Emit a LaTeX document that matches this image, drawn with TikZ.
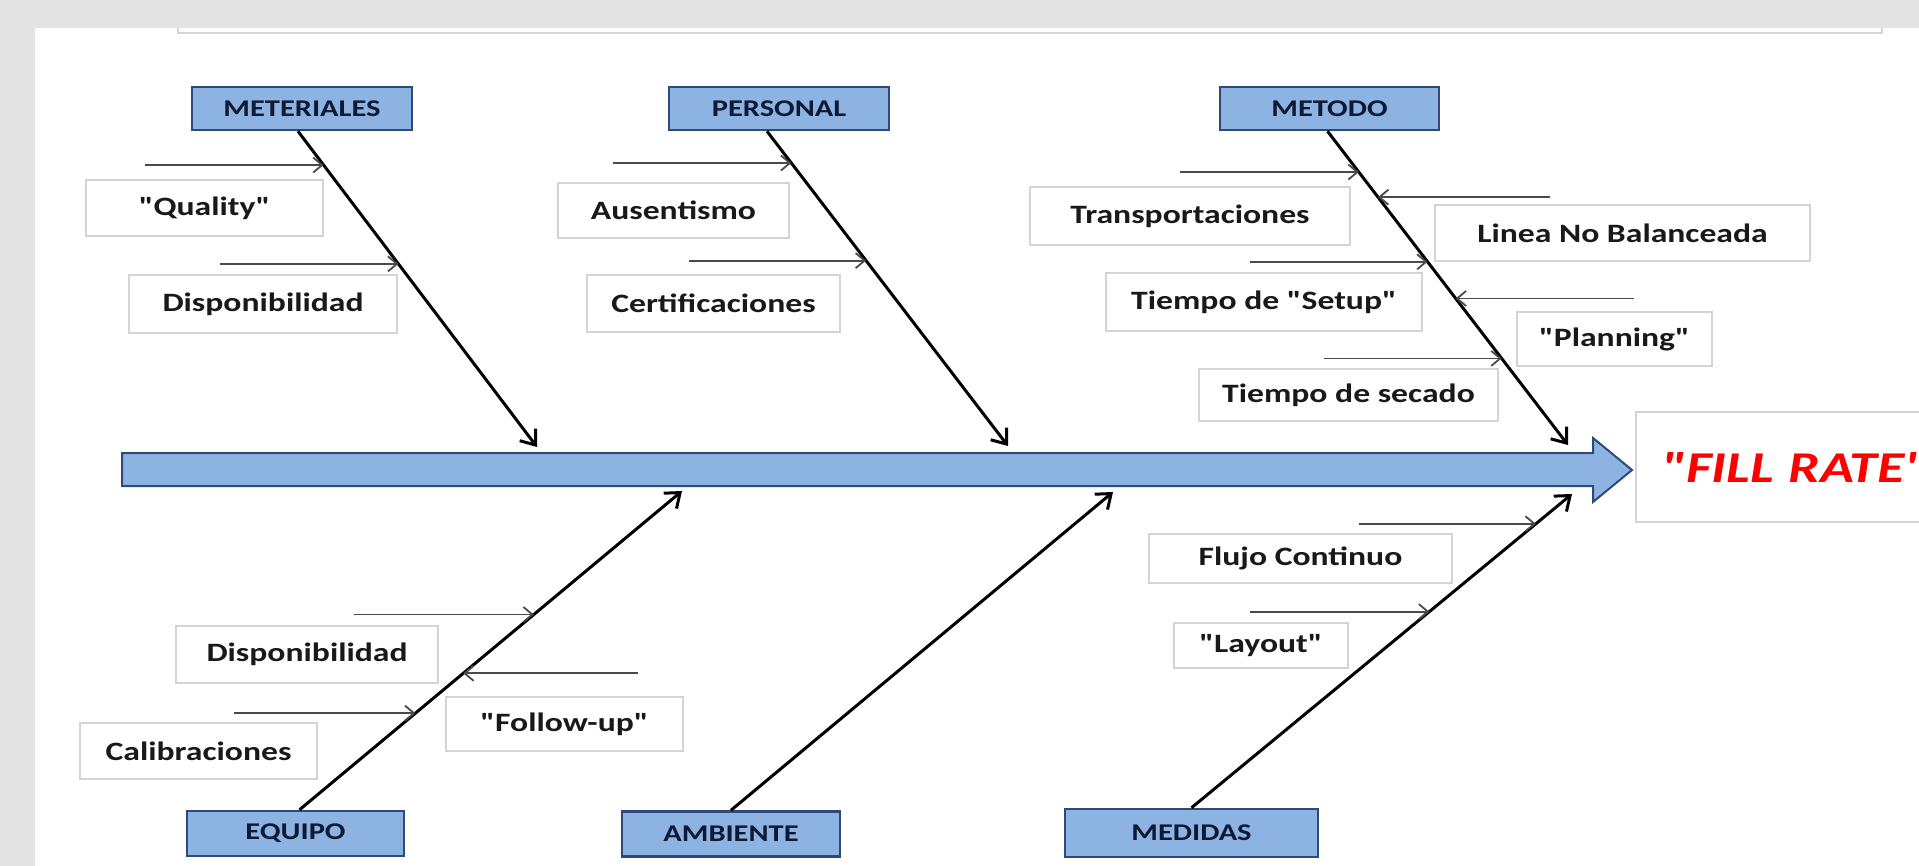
\documentclass[tikz,border=0pt]{standalone}
\usepackage{fontspec}
\setmainfont{Carlito}[FakeStretch=1.27, Ligatures=TeXOff]
\usepackage{xcolor}
\usepackage{tikz}
\usetikzlibrary{arrows.meta,calc}

\definecolor{catfill}{HTML}{8DB3E2}
\definecolor{catline}{HTML}{2E4A78}
\definecolor{cattext}{HTML}{0E1A33}
\definecolor{boxgray}{HTML}{D4D4D4}
\definecolor{pagegray}{HTML}{E4E4E4}
\definecolor{arrowgray}{HTML}{4A4A4A}

\begin{document}
\begin{tikzpicture}[x=1pt, y=-1pt,
    cat/.style={rectangle, draw=catline, line width=2.5pt, fill=catfill, minimum height=43, inner sep=0, text=cattext, font=\fontsize{24}{27}\selectfont\bfseries},
    lbl/.style={rectangle, draw=boxgray, line width=1.5pt, fill=white, minimum height=56, inner sep=0, text=black!90, font=\fontsize{26.5}{30}\selectfont\bfseries},
    bone/.style={line width=3pt, -{Straight Barb[length=13pt, width=20pt]}},
    cause/.style={draw=arrowgray, line width=1.8pt, -{Straight Barb[length=9pt, width=15pt]}},
]
\useasboundingbox (0,0) rectangle (1919,866);

% page
\fill[pagegray] (0,0) rectangle (1919,866);
\fill[white] (35,28) rectangle (1919,866);
\draw[boxgray, line width=1.5pt] (178,28) -- (178,33) -- (1882,33) -- (1882,28);

% spine
\draw[fill=catfill, draw=catline, line width=2pt] (122,453) -- (1593,453) -- (1593,438) -- (1632,470)
    -- (1593,502) -- (1593,486) -- (122,486) -- cycle;

\node[draw=boxgray, line width=1.5pt, fill=white, anchor=west, minimum height=110, text width=320, inner xsep=26, align=left, text=red, font=\fontsize{44}{48}\selectfont\bfseries\itshape] (fillrate) at (1635,467) {"FILL RATE"};

% categories
\node[cat, minimum width=220] (meteriales) at (302,108.5) {METERIALES};
\node[cat, minimum width=220] (personal) at (779,108.5) {PERSONAL};
\node[cat, minimum width=219] (metodo) at (1329.5,108.5) {METODO};
\node[cat, minimum width=217, minimum height=45] (equipo) at (295.5,833.5) {EQUIPO};
\node[cat, minimum width=218, minimum height=45] (ambiente) at (731,834) {AMBIENTE};
\node[cat, minimum width=253, minimum height=48] (medidas) at (1191.5,833) {MEDIDAS};

% causes
\node[lbl, minimum width=237] (quality) at (204.5,208) {"Quality"};
\node[lbl, minimum width=268, minimum height=58] (dispMat) at (263,304) {Disponibilidad};
\node[lbl, minimum width=231, minimum height=55] (ausentismo) at (673.5,210.5) {Ausentismo};
\node[lbl, minimum width=253, minimum height=57] (certif) at (713.5,303.5) {Certificaciones};
\node[lbl, minimum width=320, minimum height=58] (transp) at (1190,216) {Transportaciones};
\node[lbl, minimum width=375] (linea) at (1622.5,233) {Linea No Balanceada};
\node[lbl, minimum width=316, minimum height=58] (setup) at (1264,302) {Tiempo de "Setup"};
\node[lbl, minimum width=195, minimum height=54] (planning) at (1614.5,339) {"Planning"};
\node[lbl, minimum width=299, minimum height=52] (secado) at (1348.5,395) {Tiempo de secado};
\node[lbl, minimum width=262, minimum height=57] (dispEq) at (307,654.5) {Disponibilidad};
\node[lbl, minimum width=237, minimum height=54] (followup) at (564.5,724) {"Follow-up"};
\node[lbl, minimum width=237] (calib) at (198.5,751) {Calibraciones};
\node[lbl, minimum width=303, minimum height=49] (flujo) at (1300.5,558.5) {Flujo Continuo};
\node[lbl, minimum width=174, minimum height=45] (layout) at (1261,645.5) {"Layout"};

% bone tips on the spine
\coordinate (tipMat) at (537,447);
\coordinate (tipPer) at (1008,446);
\coordinate (tipMet) at (1568,445);
\coordinate (tipEqu) at (682,491);
\coordinate (tipAmb) at (1113,492);
\coordinate (tipMed) at (1572,494);

% bones
\draw[bone] ([xshift=-4pt]meteriales.south) -- (tipMat) coordinate[pos=.107] (m1) coordinate[pos=.42] (m2);
\draw[bone] ([xshift=-12pt]personal.south) -- (tipPer) coordinate[pos=.101] (p1) coordinate[pos=.411] (p2);
\draw[bone] ([xshift=-2pt]metodo.south) -- (tipMet) coordinate[pos=.130] (t1) coordinate[pos=.210] (t2)
    coordinate[pos=.416] (t3) coordinate[pos=.533] (t4) coordinate[pos=.724] (t5);
\draw[bone] ([xshift=4pt]equipo.north) -- (tipEqu) coordinate[pos=.6125] (e1) coordinate[pos=.428] (e2) coordinate[pos=.303] (e3);
\draw[bone] (ambiente.north) -- (tipAmb);
\draw[bone] (medidas.north) -- (tipMed) coordinate[pos=.905] (d1) coordinate[pos=.625] (d2);

% small arrows
\coordinate (m1s) at ($(m1)+(-179,0)$);
\coordinate (m2s) at ($(m2)+(-178,0)$);
\coordinate (p1s) at ($(p1)+(-178,0)$);
\coordinate (p2s) at ($(p2)+(-177,0)$);
\coordinate (t1s) at ($(t1)+(-179,0)$);
\coordinate (t2s) at ($(t2)+(172,0)$);
\coordinate (t3s) at ($(t3)+(-178,0)$);
\coordinate (t4s) at ($(t4)+(178,0)$);
\coordinate (t5s) at ($(t5)+(-178,0)$);
\coordinate (e1s) at ($(e1)+(-180,0)$);
\coordinate (e2s) at ($(e2)+(175,0)$);
\coordinate (e3s) at ($(e3)+(-181,0)$);
\coordinate (d1s) at ($(d1)+(-177,0)$);
\coordinate (d2s) at ($(d2)+(-179,0)$);

\draw[cause] (m1s) -- (m1);
\draw[cause] (m2s) -- (m2);
\draw[cause] (p1s) -- (p1);
\draw[cause] (p2s) -- (p2);
\draw[cause] (t1s) -- (t1);
\draw[cause] (t2s) -- (t2);
\draw[cause] (t3s) -- (t3);
\draw[cause] (t4s) -- (t4);
\draw[cause] (t5s) -- (t5);
\draw[cause] (e1s) -- (e1);
\draw[cause] (e2s) -- (e2);
\draw[cause] (e3s) -- (e3);
\draw[cause] (d1s) -- (d1);
\draw[cause] (d2s) -- (d2);

\end{tikzpicture}
\end{document}
